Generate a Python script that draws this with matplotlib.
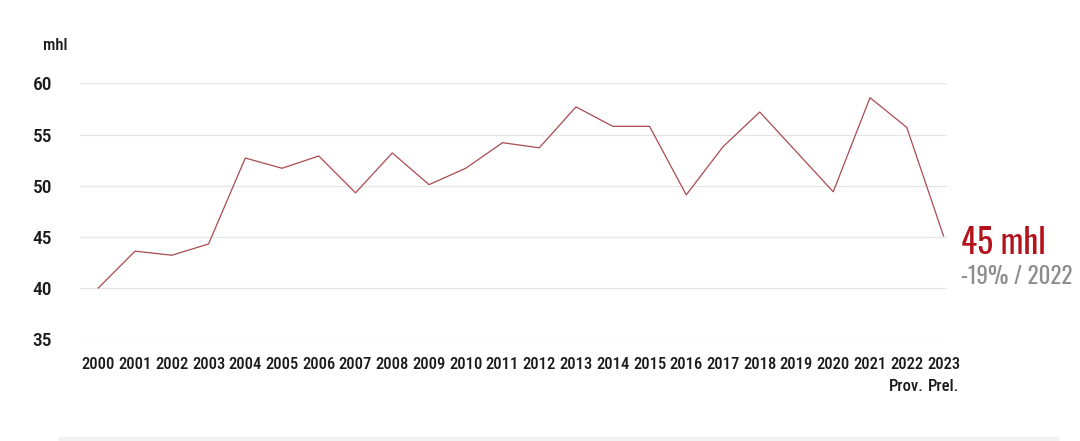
import matplotlib
matplotlib.use('Agg')
import matplotlib.pyplot as plt
from matplotlib.patches import Rectangle

plt.rcParams['font.family'] = ['Roboto Condensed', 'Oswald', 'Barlow Condensed', 'Roboto', 'DejaVu Sans']
big_font = ['Oswald', 'Roboto Condensed', 'Roboto', 'DejaVu Sans']

# Data
years = ['2000', '2001', '2002', '2003', '2004', '2005', '2006', '2007', '2008', '2009',
         '2010', '2011', '2012', '2013', '2014', '2015', '2016', '2017', '2018', '2019',
         '2020', '2021', '2022', '2023']
sublabels = [''] * 22 + ['Prov.', 'Prel.']
production = [40.0, 43.6, 43.2, 44.3, 52.7, 51.7, 52.9, 49.3, 53.2, 50.1,
              51.7, 54.2, 53.7, 57.7, 55.8, 55.8, 49.1, 53.8, 57.2, 53.3,
              49.4, 58.6, 55.7, 45.1]
yticks = [35, 40, 45, 50, 55, 60]

fig = plt.figure(figsize=(10.8, 4.41), dpi=100)
ax = fig.add_axes([0.074, 0.231, 0.803, 0.580])

x = list(range(len(years)))
ax.plot(x, production, color='#a84b50', linewidth=0.9, clip_on=False)

ax.set_xlim(-0.5, 23.1)
ax.set_ylim(35, 60)
ax.set_yticks(yticks)
ax.set_yticklabels([str(v) for v in yticks], fontsize=14, color='#1a1a1a', fontweight='medium')
ax.set_xticks(x)
ax.set_xticklabels([y + '\n' + s if s else y for y, s in zip(years, sublabels)],
                   fontsize=12, color='#1a1a1a', va='top', linespacing=1.55, fontweight='medium')
ax.tick_params(axis='y', length=0, pad=20)
ax.tick_params(axis='x', length=0, pad=13)
ax.grid(axis='y', color='#e5e5e5', linewidth=0.9)
ax.set_axisbelow(True)
for sp in ax.spines.values():
    sp.set_visible(False)

fig.text(0.040, 0.897, 'mhl', fontsize=12, color='#1a1a1a', va='center', fontweight='medium')
fig.text(0.890, 0.449, '45 mhl', fontsize=24, color='#b3121b', va='center', family=big_font)
fig.text(0.890, 0.372, '-19% / 2022', fontsize=16.5, color='#8c8c8c', va='center',
         family=big_font, fontweight='light')

fig.patches.append(Rectangle((0.055, 0.0), 0.925, 0.01, transform=fig.transFigure,
                             color='#f2f2f2', zorder=0))

fig.savefig('out.png', dpi=100)
